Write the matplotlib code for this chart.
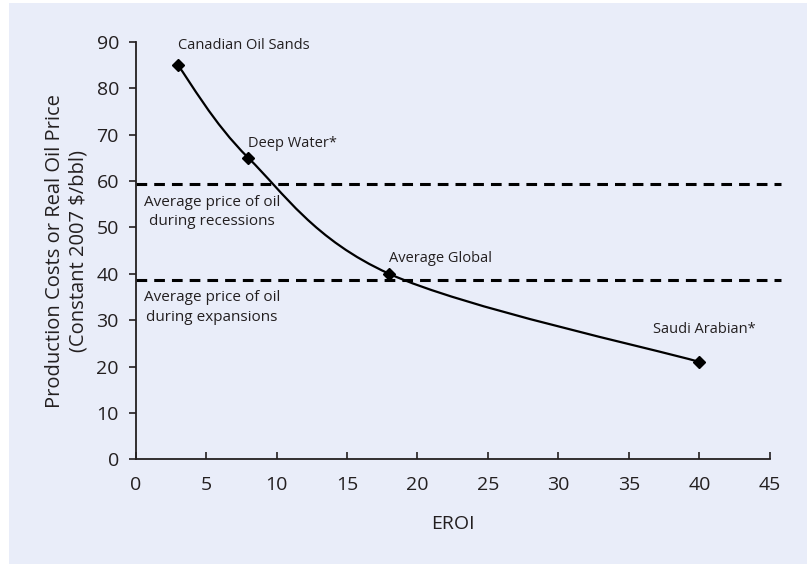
import matplotlib
matplotlib.use("Agg")
import matplotlib.pyplot as plt
from matplotlib.path import Path
from matplotlib.patches import PathPatch, Rectangle

plt.rcParams['font.family'] = ['Open Sans', 'DejaVu Sans']

# data
eroi = [3, 8, 18, 40]
cost = [85, 65, 40, 21]
names = ["Canadian Oil Sands", "Deep Water*", "Average Global", "Saudi Arabian*"]
recession_price = 59.3
expansion_price = 38.7

# label placement (points offset from marker) and alignment
label_offsets = [(0, 14.5), (0, 10.5), (0, 11), (3.5, 23.5)]
label_ha = ['left', 'left', 'left', 'center']

bg = '#e9edf9'
ink = '#231f20'
fig = plt.figure(figsize=(8.07, 5.64), dpi=100)
fig.patch.set_facecolor('white')
fig.patches.append(Rectangle((9 / 807, 0), 1, 1 - 3 / 564, transform=fig.transFigure,
                             facecolor=bg, edgecolor='none', zorder=-10))

ax = fig.add_axes([0.168, 0.1856, 0.786, 0.74])
ax.set_facecolor('none')

# smooth curve through the points (Catmull-Rom as bezier segments)
pts = list(zip(eroi, cost))
verts = [pts[0]]
codes = [Path.MOVETO]
for i in range(len(pts) - 1):
    p0 = pts[i - 1] if i > 0 else pts[i]
    p1 = pts[i]
    p2 = pts[i + 1]
    p3 = pts[i + 2] if i + 2 < len(pts) else pts[i + 1]
    c1 = (p1[0] + (p2[0] - p0[0]) / 6, p1[1] + (p2[1] - p0[1]) / 6)
    c2 = (p2[0] - (p3[0] - p1[0]) / 6, p2[1] - (p3[1] - p1[1]) / 6)
    verts += [c1, c2, p2]
    codes += [Path.CURVE4] * 3
ax.add_patch(PathPatch(Path(verts, codes), facecolor='none', edgecolor='black', lw=1.6, zorder=3))
ax.plot(eroi, cost, linestyle='none', marker='D', ms=6.5, color='black', zorder=4)

for x, y, n, off, ha in zip(eroi, cost, names, label_offsets, label_ha):
    ax.annotate(n, (x, y), xytext=off, textcoords='offset points',
                fontsize=10.5, color=ink, ha=ha, va='center')

for yv, txt in [(recession_price, "Average price of oil\nduring recessions"),
                (expansion_price, "Average price of oil\nduring expansions")]:
    ax.plot([0, 45.8], [yv, yv], color='black', lw=2.2, dashes=(3.5, 2.3), clip_on=False, zorder=2)
    ax.text(5.4, yv - 2.2, txt, fontsize=11, color=ink, ha='center', va='top',
            linespacing=1.45)

ax.set_xlim(0, 45)
ax.set_ylim(0, 90)
ax.set_xticks(range(0, 46, 5))
ax.set_yticks(range(0, 91, 10))
ax.spines['top'].set_visible(False)
ax.spines['right'].set_visible(False)
for s in ['left', 'bottom']:
    ax.spines[s].set_linewidth(1.3)
    ax.spines[s].set_color(ink)
ax.tick_params(axis='x', direction='in', length=5, width=1.2, labelsize=14, pad=12, colors=ink)
ax.tick_params(axis='y', direction='out', length=5, width=1.2, labelsize=14, pad=7, colors=ink)
ax.set_xlabel("EROI", fontsize=14, labelpad=15, color=ink)
ax.set_ylabel("Production Costs or Real Oil Price\n(Constant 2007 $/bbl)", fontsize=14.5,
              labelpad=6, color=ink, linespacing=1.2)

fig.savefig("out.png", dpi=100, facecolor=fig.get_facecolor())
